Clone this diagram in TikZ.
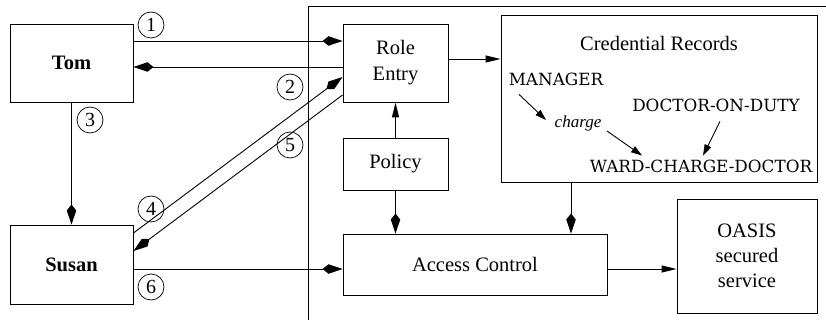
\documentclass[tikz,border=0pt]{standalone}
\usepackage{fontspec}
\setmainfont{Liberation Serif}
\newfontfamily\capsfont{DejaVu Serif}
\usetikzlibrary{arrows.meta}
\begin{document}
\begin{tikzpicture}[x=1pt,y=-1pt,line width=0.9pt,
  box/.style={draw,inner sep=0pt,align=center,font=\fontsize{20.5}{26}\selectfont},
  num/.style={draw,circle,line width=0.7pt,minimum size=26pt,inner sep=0pt,font=\fontsize{20}{20}\selectfont},
  kitearr/.style={-{Kite[length=20pt,width=9.5pt,inset=6pt]}},
  triarr/.style={-{Triangle[length=15pt,width=7pt]}},
  smallarr/.style={-{Triangle[length=11pt,width=7pt]}},
  capstext/.style={inner sep=0pt,text height=12pt,text depth=0pt,font=\capsfont\fontsize{16.8}{17}\selectfont}]
\useasboundingbox (0,0) rectangle (826,320);
% divider
\draw (308,320) -- (308,6) -- (826,6);
% boxes
\node[box,minimum width=123pt,minimum height=78pt,font=\fontsize{20.5}{26}\selectfont\bfseries] (tom) at (71.5,63) {Tom};
\node[box,minimum width=123pt,minimum height=79pt,font=\fontsize{20.5}{26}\selectfont\bfseries] (susan) at (71.5,264.5) {Susan};
\node[box,minimum width=105pt,minimum height=78pt] (role) at (395.5,63) {Role\\Entry};
\node[box,minimum width=105pt,minimum height=52pt] (policy) at (395.5,164) {Policy};
\node[box,minimum width=264pt,minimum height=61pt] (access) at (475,264.5) {Access Control};
\node[box,minimum width=316pt,minimum height=167pt] (cred) at (659,98.5) {};
\node[box,minimum width=140pt,minimum height=114pt,font=\fontsize{20.5}{25}\selectfont] (oasis) at (747,256) {OASIS\\secured\\service};
% credential records contents
\node[inner sep=0pt,font=\fontsize{20.5}{26}\selectfont] (credtitle) at (659,43) {Credential Records};
\node[capstext] (mgr) at (556,80) {MANAGER};
\node[capstext] (doc) at (716,106) {DOCTOR-ON-DUTY};
\node[capstext] (ward) at (701,167) {WARD-CHARGE-DOCTOR};
\node[inner sep=0pt,font=\fontsize{17}{17}\selectfont\itshape] (charge) at (578,123) {charge};
\draw[smallarr] ([shift={(-37pt,-8pt)}]mgr.south) -- ([shift={(-32pt,3pt)}]charge.center);
\draw[smallarr] ([shift={(29pt,-8pt)}]charge.center) -- ([shift={(-59pt,5pt)}]ward.north);
\draw[smallarr] ([shift={(4pt,-9pt)}]doc.south) -- ([shift={(2pt,5pt)}]ward.north);
% connectors
\draw[kitearr] ([yshift=22pt]tom.east) -- ([yshift=22pt]role.west);
\draw[kitearr] ([yshift=-4pt]role.west) -- ([yshift=-4pt]tom.east);
\draw[triarr] ([yshift=4pt]role.east) -- ([yshift=4pt]role.east -| cred.west);
\draw[triarr] (policy.north) -- (role.south);
\draw[kitearr] (policy.south) -- (policy.south |- access.north);
\draw[kitearr] ([xshift=-88pt]cred.south) -- ([xshift=-88pt]cred.south |- access.north);
\draw[triarr] ([yshift=-4.5pt]access.east) -- ([yshift=-4.5pt]access.east -| oasis.west);
\draw[kitearr] ([yshift=-4.5pt]susan.east) -- ([yshift=-4.5pt]access.west);
\draw[kitearr] (tom.south) -- (susan.north);
\draw[kitearr] ([yshift=31.5pt]susan.east) -- ([yshift=-14pt]role.west);
\draw[kitearr] ([yshift=-32pt]role.west) -- ([yshift=13.5pt]susan.east);
% step numbers
\node[num] (n1) at (151,25) {1};
\node[num] (n2) at (290,87) {2};
\node[num] (n3) at (90,120) {3};
\node[num] (n4) at (151,209) {4};
\node[num] (n5) at (290,145) {5};
\node[num] (n6) at (151,287) {6};
\end{tikzpicture}
\end{document}
